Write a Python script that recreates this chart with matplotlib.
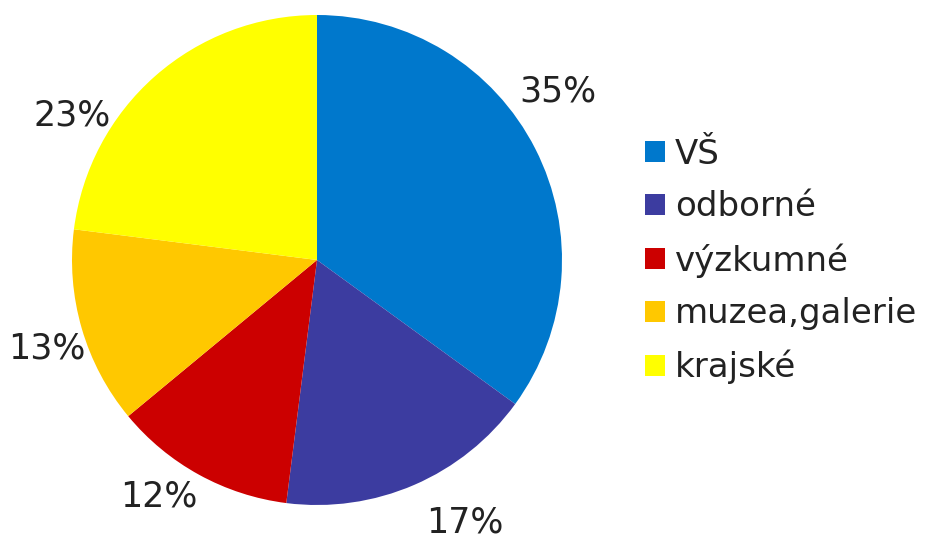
import matplotlib
matplotlib.use("Agg")
import matplotlib.pyplot as plt
from matplotlib.patches import Patch
import numpy as np

categories = ["VŠ", "odborné", "výzkumné", "muzea,galerie", "krajské"]
values = [35, 17, 12, 13, 23]
colors = ["#0078CC", "#3C3CA0", "#CC0000", "#FFC800", "#FFFF00"]

plt.rcParams['font.family'] = ['DejaVu Sans']

fig = plt.figure(figsize=(9.25, 5.42), dpi=100)
ax = fig.add_axes([72/925, 37/542, 490/925, 490/542])

wedges, _ = ax.pie(values, colors=colors, startangle=90, counterclock=False,
                   radius=1.0, wedgeprops=dict(linewidth=0))
ax.set_xlim(-1, 1)
ax.set_ylim(-1, 1)
ax.set_aspect('equal')

total = sum(values)
offsets = [8, 6, -5, 2, 18]
dists = [1.2, 1.23, 1.16, 1.16, 1.16]
cum = 0
for v, off, d in zip(values, offsets, dists):
    mid = 90 - (cum + v / 2) / total * 360 + off
    cum += v
    th = np.deg2rad(mid)
    ax.text(d * np.cos(th), d * np.sin(th), f"{v}%", ha='center', va='center',
            fontsize=25, color='#222222', clip_on=False)

handles = [Patch(facecolor=c, edgecolor='none') for c in colors]
fig.legend(handles, categories, loc='center left', bbox_to_anchor=(628/925, 1 - 261/542),
           frameon=False, fontsize=24.5, handlelength=0.58, handleheight=0.58,
           handletextpad=0.3, labelspacing=0.58, borderpad=0, labelcolor='#222222')

fig.savefig("out.png", dpi=100)
